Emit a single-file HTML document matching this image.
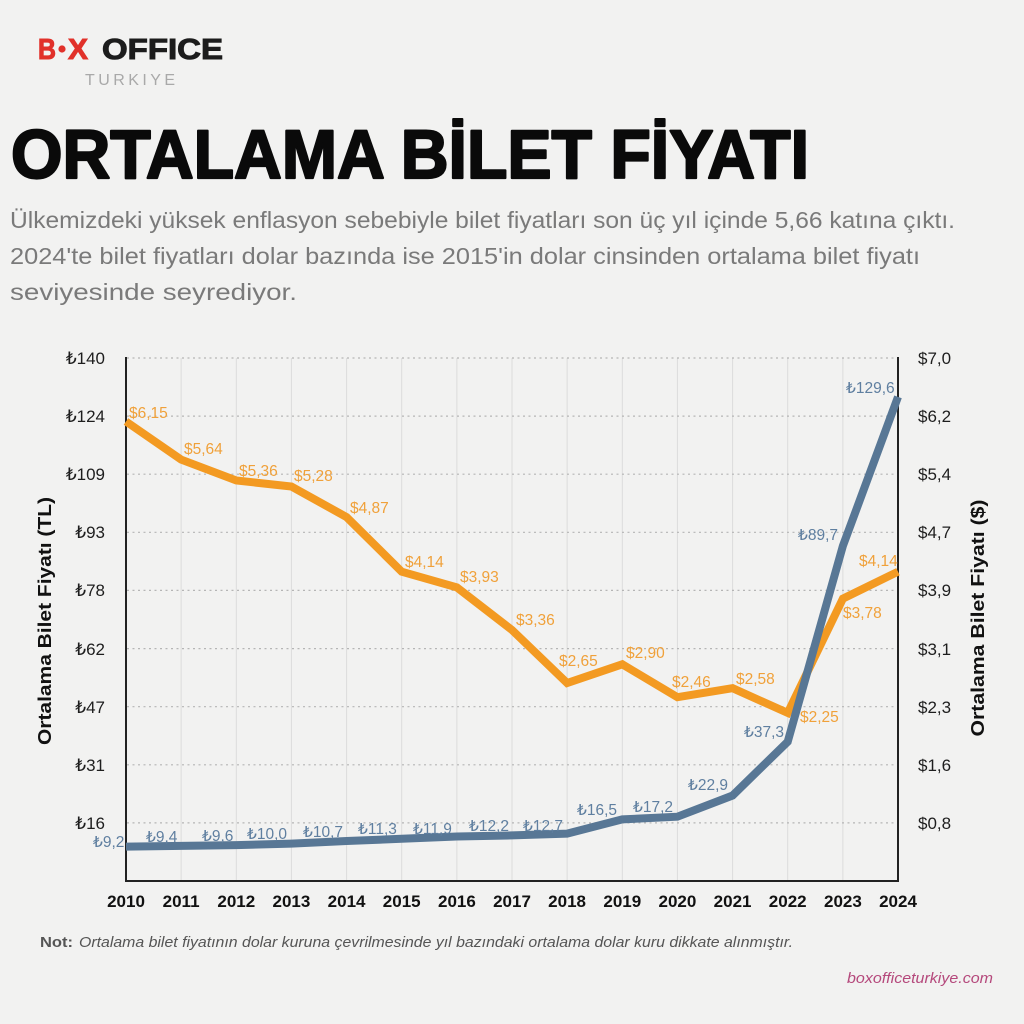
<!DOCTYPE html>
<html><head><meta charset="utf-8"><style>
html,body{margin:0;padding:0;background:#f2f2f1;}
svg{display:block;}
text{font-family:"Liberation Sans","DejaVu Sans",sans-serif;}
</style></head><body>
<svg width="1024" height="1024" viewBox="0 0 1024 1024" xmlns="http://www.w3.org/2000/svg">
<rect x="0" y="0" width="1024" height="1024" fill="#f2f2f1"/>

<!-- Logo -->
<text x="38" y="59" font-size="29" font-weight="bold" fill="#e1312a" stroke="#e1312a" stroke-width="1" textLength="18" lengthAdjust="spacingAndGlyphs">B</text>
<circle cx="62" cy="49" r="3.6" fill="#e1312a"/>
<text x="68" y="59" font-size="29" font-weight="bold" fill="#e1312a" stroke="#e1312a" stroke-width="1" textLength="20" lengthAdjust="spacingAndGlyphs">X</text>
<text x="102" y="59" font-size="29" font-weight="bold" fill="#1c1c1c" stroke="#1c1c1c" stroke-width="1" textLength="121" lengthAdjust="spacingAndGlyphs">OFFICE</text>
<text x="85" y="85" font-size="16" fill="#a9a9a9" textLength="90" lengthAdjust="spacing">TURKIYE</text>

<!-- Title -->
<text x="11" y="178" font-size="69" font-weight="bold" fill="#0a0a0a" stroke="#0a0a0a" stroke-width="2.2" stroke-linejoin="round" textLength="798" lengthAdjust="spacingAndGlyphs">ORTALAMA BİLET FİYATI</text>

<!-- Subtitle -->
<g font-size="23" fill="#7a7a7a">
<text x="10" y="228" textLength="945" lengthAdjust="spacingAndGlyphs">Ülkemizdeki yüksek enflasyon sebebiyle bilet fiyatları son üç yıl içinde 5,66 katına çıktı.</text>
<text x="10" y="264" textLength="910" lengthAdjust="spacingAndGlyphs">2024'te bilet fiyatları dolar bazında ise 2015'in dolar cinsinden ortalama bilet fiyatı</text>
<text x="10" y="300" textLength="287" lengthAdjust="spacingAndGlyphs">seviyesinde seyrediyor.</text>
</g>

<!-- Vertical gridlines -->
<g stroke="#dcdcdc" stroke-width="1">
<line x1="181.1" y1="358" x2="181.1" y2="881"/>
<line x1="236.3" y1="358" x2="236.3" y2="881"/>
<line x1="291.4" y1="358" x2="291.4" y2="881"/>
<line x1="346.6" y1="358" x2="346.6" y2="881"/>
<line x1="401.7" y1="358" x2="401.7" y2="881"/>
<line x1="456.9" y1="358" x2="456.9" y2="881"/>
<line x1="512" y1="358" x2="512" y2="881"/>
<line x1="567.1" y1="358" x2="567.1" y2="881"/>
<line x1="622.3" y1="358" x2="622.3" y2="881"/>
<line x1="677.4" y1="358" x2="677.4" y2="881"/>
<line x1="732.6" y1="358" x2="732.6" y2="881"/>
<line x1="787.7" y1="358" x2="787.7" y2="881"/>
<line x1="842.9" y1="358" x2="842.9" y2="881"/>
</g>

<!-- Horizontal dotted gridlines -->
<g stroke="#b5b5b5" stroke-width="1.2" stroke-dasharray="2,3.5">
<line x1="127" y1="358" x2="897" y2="358"/>
<line x1="127" y1="416.1" x2="897" y2="416.1"/>
<line x1="127" y1="474.2" x2="897" y2="474.2"/>
<line x1="127" y1="532.3" x2="897" y2="532.3"/>
<line x1="127" y1="590.4" x2="897" y2="590.4"/>
<line x1="127" y1="648.6" x2="897" y2="648.6"/>
<line x1="127" y1="706.7" x2="897" y2="706.7"/>
<line x1="127" y1="764.8" x2="897" y2="764.8"/>
<line x1="127" y1="822.9" x2="897" y2="822.9"/>
</g>

<!-- Axes -->
<g stroke="#222" stroke-width="2" fill="none">
<polyline points="126,357 126,881 898,881 898,357"/>
</g>

<!-- Left tick labels -->
<g font-size="17" fill="#1e1e1e" text-anchor="end">
<text x="105" y="364">₺140</text>
<text x="105" y="422">₺124</text>
<text x="105" y="480">₺109</text>
<text x="105" y="538">₺93</text>
<text x="105" y="596">₺78</text>
<text x="105" y="655">₺62</text>
<text x="105" y="713">₺47</text>
<text x="105" y="771">₺31</text>
<text x="105" y="829">₺16</text>
</g>

<!-- Right tick labels -->
<g font-size="17" fill="#1e1e1e">
<text x="918" y="364">$7,0</text>
<text x="918" y="422">$6,2</text>
<text x="918" y="480">$5,4</text>
<text x="918" y="538">$4,7</text>
<text x="918" y="596">$3,9</text>
<text x="918" y="655">$3,1</text>
<text x="918" y="713">$2,3</text>
<text x="918" y="771">$1,6</text>
<text x="918" y="829">$0,8</text>
</g>

<!-- Axis titles -->
<text transform="translate(51,621) rotate(-90)" text-anchor="middle" font-size="18" font-weight="bold" fill="#111" textLength="248" lengthAdjust="spacingAndGlyphs">Ortalama Bilet Fiyatı (TL)</text>
<text transform="translate(984,618) rotate(-90)" text-anchor="middle" font-size="18" font-weight="bold" fill="#111" textLength="237" lengthAdjust="spacingAndGlyphs">Ortalama Bilet Fiyatı ($)</text>

<!-- Year labels -->
<g font-size="17" font-weight="bold" fill="#111" text-anchor="middle">
<text x="126" y="907">2010</text>
<text x="181.1" y="907">2011</text>
<text x="236.3" y="907">2012</text>
<text x="291.4" y="907">2013</text>
<text x="346.6" y="907">2014</text>
<text x="401.7" y="907">2015</text>
<text x="456.9" y="907">2016</text>
<text x="512" y="907">2017</text>
<text x="567.1" y="907">2018</text>
<text x="622.3" y="907">2019</text>
<text x="677.4" y="907">2020</text>
<text x="732.6" y="907">2021</text>
<text x="787.7" y="907">2022</text>
<text x="842.9" y="907">2023</text>
<text x="898" y="907">2024</text>
</g>

<!-- Orange USD line -->
<polyline fill="none" stroke="#f39a22" stroke-width="8" stroke-linejoin="miter" stroke-linecap="butt"
 points="126,421.5 181.1,459.6 236.3,480.5 291.4,486.5 346.6,517.1 401.7,571.7 456.9,587.4 512,630 567.1,683 622.3,664.3 677.4,697.2 732.6,688.2 787.7,712.9 842.9,598.6 898,571.7"/>

<!-- Blue TL line -->
<polyline fill="none" stroke="#587795" stroke-width="8" stroke-linejoin="miter" stroke-linecap="butt"
 points="126,846.6 181.1,845.9 236.3,845.1 291.4,843.6 346.6,841 401.7,838.8 456.9,836.5 512,835.4 567.1,833.6 622.3,819.4 677.4,816.7 732.6,795.5 787.7,741.7 842.9,545.9 898,396.9"/>

<!-- Orange labels -->
<g font-size="15.5" fill="#f0a13a">
<text x="129" y="418">$6,15</text>
<text x="184" y="454">$5,64</text>
<text x="239" y="476">$5,36</text>
<text x="294" y="481">$5,28</text>
<text x="350" y="513">$4,87</text>
<text x="405" y="567">$4,14</text>
<text x="460" y="582">$3,93</text>
<text x="516" y="625">$3,36</text>
<text x="559" y="666">$2,65</text>
<text x="626" y="658">$2,90</text>
<text x="672" y="687">$2,46</text>
<text x="736" y="684">$2,58</text>
<text x="800" y="722">$2,25</text>
<text x="843" y="618">$3,78</text>
<text x="859" y="566">$4,14</text>
</g>

<!-- Blue labels -->
<g font-size="15.5" fill="#5f7fa0">
<text x="93" y="847">₺9,2</text>
<text x="146" y="842">₺9,4</text>
<text x="202" y="841">₺9,6</text>
<text x="247" y="839">₺10,0</text>
<text x="303" y="837">₺10,7</text>
<text x="358" y="834">₺11,3</text>
<text x="413" y="834">₺11,9</text>
<text x="469" y="831">₺12,2</text>
<text x="523" y="831">₺12,7</text>
<text x="577" y="815">₺16,5</text>
<text x="633" y="812">₺17,2</text>
<text x="688" y="790">₺22,9</text>
<text x="744" y="737">₺37,3</text>
<text x="798" y="540">₺89,7</text>
<text x="846" y="393">₺129,6</text>
</g>

<!-- Note -->
<text x="40" y="947" font-size="15" font-weight="bold" fill="#555" textLength="33" lengthAdjust="spacingAndGlyphs">Not:</text>
<text x="79" y="947" font-size="15" font-style="italic" fill="#555" textLength="714" lengthAdjust="spacingAndGlyphs">Ortalama bilet fiyatının dolar kuruna çevrilmesinde yıl bazındaki ortalama dolar kuru dikkate alınmıştır.</text>

<!-- Footer -->
<text x="847" y="983" font-size="15" font-style="italic" fill="#b5497c" textLength="146" lengthAdjust="spacingAndGlyphs">boxofficeturkiye.com</text>
</svg>
</body></html>
